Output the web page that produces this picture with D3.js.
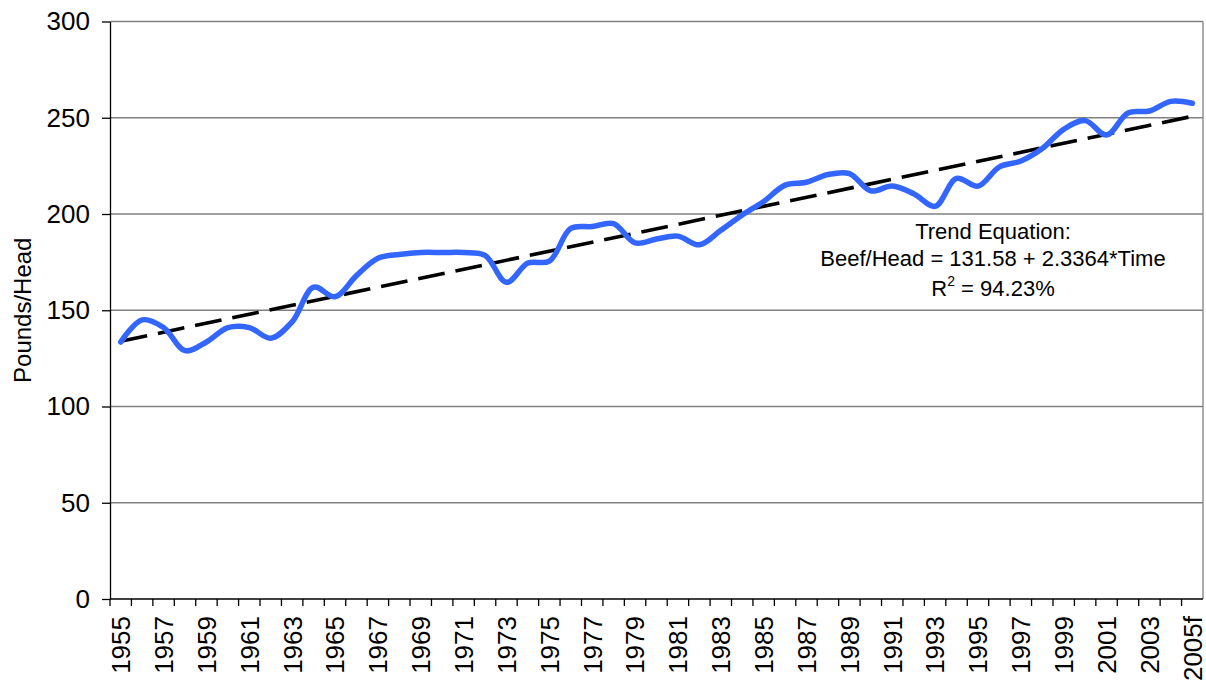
<!DOCTYPE html>
<html>
<head>
<meta charset="utf-8">
<script src="https://cdn.jsdelivr.net/npm/d3@7"></script>
<style>
  body { margin: 0; background: #fff; }
  text { font-family: "Liberation Sans", Arial, sans-serif; fill: #000; }
</style>
</head>
<body>
<script>
var years = ["1955","1956","1957","1958","1959","1960","1961","1962","1963","1964",
  "1965","1966","1967","1968","1969","1970","1971","1972","1973","1974",
  "1975","1976","1977","1978","1979","1980","1981","1982","1983","1984",
  "1985","1986","1987","1988","1989","1990","1991","1992","1993","1994",
  "1995","1996","1997","1998","1999","2000","2001","2002","2003","2004","2005f"];

var beefPerHead = [133.5, 145, 141, 129, 133.5, 141, 141, 135.5, 144, 162,
  157, 168, 177, 179, 180, 180, 180, 178.5, 164.5, 174.5,
  175.5, 192.5, 193.5, 195, 185, 187, 188.5, 184, 191.5, 199.5,
  206.5, 215, 216.5, 220.5, 221, 212, 214.5, 210.5, 204, 218.5,
  214.5, 224.5, 227.5, 234, 244, 248.5, 241, 252.5, 253.5, 258.5, 257.5];

var yTicks = [0, 50, 100, 150, 200, 250, 300];

// trend: Beef/Head = 131.58 + 2.3364*Time, Time = 1..51
var trendIntercept = 131.58;
var trendSlope = 2.3364;

var width = 1206, height = 681;
var plotLeft = 110, plotRight = 1203, plotTop = 21.5, plotBottom = 599;

var svg = d3.select("body").append("svg")
  .attr("width", width)
  .attr("height", height);

var x = d3.scaleBand().domain(years).range([plotLeft, plotRight]).padding(0);
var y = d3.scaleLinear().domain([0, 300]).range([plotBottom, plotTop]);
var cx = function (d) { return x(d) + x.bandwidth() / 2; };

// gridlines
svg.append("g").selectAll("line").data(yTicks.filter(function (d) { return d > 0; }))
  .enter().append("line")
  .attr("x1", plotLeft).attr("x2", plotRight)
  .attr("y1", function (d) { return y(d); })
  .attr("y2", function (d) { return y(d); })
  .attr("stroke", "#808080")
  .attr("stroke-width", 1.3);

// right border
svg.append("line")
  .attr("x1", plotRight).attr("x2", plotRight)
  .attr("y1", plotTop).attr("y2", plotBottom)
  .attr("stroke", "#808080")
  .attr("stroke-width", 1.3);

// y axis
var yAxis = svg.append("g")
  .attr("transform", "translate(" + plotLeft + ",0)")
  .call(d3.axisLeft(y).tickValues(yTicks).tickSize(8).tickPadding(12).tickSizeOuter(0));
yAxis.select(".domain").attr("stroke", "#000").attr("stroke-width", 1.3);
yAxis.selectAll(".tick line").attr("stroke", "#000").attr("stroke-width", 1.3);
yAxis.selectAll(".tick text")
  .attr("font-size", "26px")
  .attr("font-family", "Liberation Sans, Arial, sans-serif");

// x axis line
svg.append("line")
  .attr("x1", plotLeft).attr("x2", plotRight)
  .attr("y1", plotBottom).attr("y2", plotBottom)
  .attr("stroke", "#000")
  .attr("stroke-width", 1.3);

// x ticks at category boundaries
svg.append("g").selectAll("line").data(years)
  .enter().append("line")
  .attr("x1", function (d) { return x(d); })
  .attr("x2", function (d) { return x(d); })
  .attr("y1", plotBottom).attr("y2", plotBottom + 7)
  .attr("stroke", "#000")
  .attr("stroke-width", 1.3);

// x labels, every other year
svg.append("g").selectAll("text").data(years.filter(function (d, i) { return i % 2 === 0; }))
  .enter().append("text")
  .attr("transform", function (d) { return "translate(" + cx(d) + "," + (plotBottom + 17) + ") rotate(-90)"; })
  .attr("text-anchor", "end")
  .attr("dy", "0.36em")
  .attr("font-size", "26px")
  .text(function (d) { return d; });

// y title
svg.append("text")
  .attr("transform", "translate(31," + ((plotTop + plotBottom) / 2) + ") rotate(-90)")
  .attr("text-anchor", "middle")
  .attr("font-size", "24px")
  .text("Pounds/Head");

// trend line
var trendPts = [years[0], years[years.length - 1]].map(function (d) {
  var t = years.indexOf(d) + 1;
  return { year: d, v: trendIntercept + trendSlope * t };
});
svg.append("path")
  .datum(trendPts)
  .attr("d", d3.line().x(function (d) { return cx(d.year); }).y(function (d) { return y(d.v); }))
  .attr("fill", "none")
  .attr("stroke", "#000")
  .attr("stroke-width", 3.6)
  .attr("stroke-dasharray", "27,11");

// data line
var series = years.map(function (d, i) { return { year: d, v: beefPerHead[i] }; });
svg.append("path")
  .datum(series)
  .attr("d", d3.line()
    .x(function (d) { return cx(d.year); })
    .y(function (d) { return y(d.v); })
    .curve(d3.curveCatmullRom.alpha(0.5)))
  .attr("fill", "none")
  .attr("stroke", "#3366FF")
  .attr("stroke-width", 5.5)
  .attr("stroke-linejoin", "round")
  .attr("stroke-linecap", "round");

// annotation
var ann = svg.append("g");
ann.append("text").attr("x", 993).attr("y", 239).attr("text-anchor", "middle")
  .attr("font-size", "22px").text("Trend Equation:");
ann.append("text").attr("x", 993).attr("y", 266).attr("text-anchor", "middle")
  .attr("font-size", "22px").text("Beef/Head = 131.58 + 2.3364*Time");
var r2 = ann.append("text").attr("x", 993).attr("y", 296).attr("text-anchor", "middle")
  .attr("font-size", "22px");
r2.append("tspan").text("R");
r2.append("tspan").attr("font-size", "14px").attr("dy", "-10").text("2");
r2.append("tspan").attr("dy", "10").text(" = 94.23%");
</script>
</body>
</html>
